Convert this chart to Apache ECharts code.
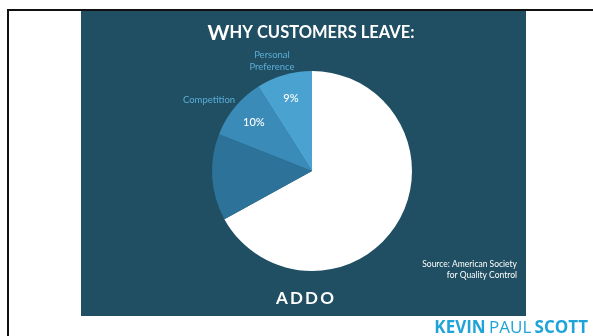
<!DOCTYPE html>
<html><head><meta charset="utf-8">
<script src="https://cdn.jsdelivr.net/npm/echarts@6/dist/echarts.min.js"></script>
<style>html,body{margin:0;padding:0;background:#fff}#c{width:593px;height:336px}</style>
</head><body><div id="c"></div>
<script>
const categories = ['Other reasons', 'Product dissatisfaction', 'Competition', 'Personal Preference'];
const values = [67, 14, 10, 9];
const shownLabels = ['', '', '10%', '9%'];
const sliceColors = ['#ffffff', '#2c7299', '#3a8bb8', '#4aa2d0'];
const titleText = 'Why customers leave:';
const sourceLines = ['Source: American Society', 'for Quality Control'];
const brand = 'ADDO';
const author = ['KEVIN', 'PAUL', 'SCOTT'];

const chart = echarts.init(document.getElementById('c'), null, {renderer: 'canvas'});
const FONT = 'Lato, "Noto Sans", sans-serif';
const WIDE = '"Open Sans", Lato, sans-serif';
const up = titleText.toUpperCase();

chart.setOption({
  backgroundColor: '#ffffff',
  animation: false,
  graphic: [
    {type: 'rect', z: 0, shape: {x: 81, y: 11, width: 445, height: 305}, style: {fill: '#204f63'}},
    {type: 'rect', z: 0, shape: {x: 7, y: 9, width: 586, height: 2}, style: {fill: '#111'}},
    {type: 'rect', z: 0, shape: {x: 7, y: 9, width: 2, height: 327}, style: {fill: '#111'}},
    {type: 'text', z: 10, x: 311, y: 33, style: {
      text: '{a|' + up[0] + '}{b|' + up.slice(1) + '}', align: 'center', verticalAlign: 'middle',
      rich: {a: {fontSize: 21, fontWeight: 'bold', fill: '#fff', fontFamily: FONT},
             b: {fontSize: 16.5, fontWeight: 'bold', fill: '#fff', fontFamily: FONT}}}},
    {type: 'text', z: 10, x: 209, y: 100, style: {text: categories[2], fill: '#5aaed8', fontSize: 9.5, fontFamily: FONT, align: 'center', verticalAlign: 'middle'}},
    {type: 'text', z: 10, x: 272, y: 61, style: {text: categories[3].replace(' ', '\n'), fill: '#5aaed8', fontSize: 9.5, lineHeight: 12, fontFamily: FONT, align: 'center', verticalAlign: 'middle'}},
    {type: 'text', z: 10, x: 517, y: 270, style: {text: sourceLines.join('\n'), fill: '#fff', fontSize: 8.5, lineHeight: 11, fontFamily: FONT, align: 'right', verticalAlign: 'middle'}},
    {type: 'text', z: 10, x: 305, y: 299, style: {text: brand.split('').join('\u2009'), fill: '#fff', fontSize: 17, fontWeight: 'bold', fontFamily: FONT, align: 'center', verticalAlign: 'middle'}},
    {type: 'text', z: 10, x: 588, y: 328, style: {
      text: '{b|' + author[0] + '} {r|' + author[1] + '} {b|' + author[2] + '}', align: 'right', verticalAlign: 'middle',
      rich: {b: {fontSize: 17, fontWeight: 'bold', fill: '#1ea4d8', fontFamily: WIDE},
             r: {fontSize: 17, fontWeight: 'normal', fill: '#1ea4d8', fontFamily: WIDE}}}}
  ],
  series: [
    {type: 'pie', z: 2, center: [312, 171], radius: [0, 100], startAngle: 90, clockwise: true,
     silent: true, label: {show: false}, labelLine: {show: false},
     data: values.map((v, i) => ({name: categories[i], value: v, itemStyle: {color: sliceColors[i]}}))},
    {type: 'pie', z: 3, center: [312, 171], radius: [45, 100], startAngle: 90, clockwise: true,
     silent: true, labelLine: {show: false},
     itemStyle: {color: 'rgba(0,0,0,0)'},
     label: {show: true, position: 'inside', color: '#fff', fontSize: 11, fontWeight: 500, fontFamily: FONT,
             formatter: p => shownLabels[p.dataIndex]},
     data: values.map((v, i) => ({name: categories[i], value: v}))}
  ]
});
</script></body></html>
